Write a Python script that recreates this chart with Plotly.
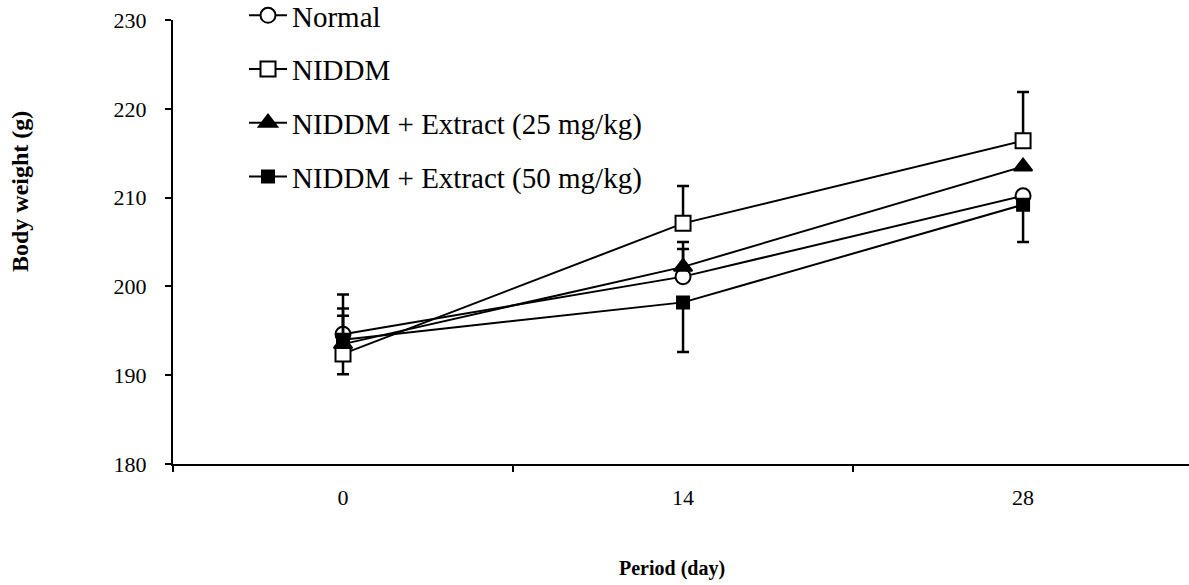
import plotly.graph_objects as go

days = ["0", "14", "28"]

normal = [194.6, 201.1, 210.2]
normal_plus = [4.5, 3.1, 0.0]
normal_minus = [0.0, 0.0, 0.0]

niddm = [192.4, 207.1, 216.4]
niddm_plus = [0.0, 4.2, 5.5]
niddm_minus = [2.3, 0.0, 0.0]

ext25 = [193.5, 202.2, 213.5]
ext25_plus = [4.0, 2.8, 0.0]
ext25_minus = [0.0, 0.0, 0.0]

ext50 = [194.0, 198.2, 209.2]
ext50_plus = [2.7, 0.0, 0.0]
ext50_minus = [0.0, 5.6, 4.2]

y_ticks = [180, 190, 200, 210, 220, 230]

FONT = "Liberation Serif"

series = [
    ("Normal", normal, normal_plus, normal_minus, "circle", "white", 15),
    ("NIDDM", niddm, niddm_plus, niddm_minus, "square", "white", 15),
    ("NIDDM + Extract (25 mg/kg)", ext25, ext25_plus, ext25_minus, "triangle-up", "black", 16),
    ("NIDDM + Extract (50 mg/kg)", ext50, ext50_plus, ext50_minus, "square", "black", 12),
]

fig = go.Figure()
for i, (name, vals, plus, minus, sym, fill, size) in enumerate(series):
    fig.add_trace(go.Scatter(
        x=days, y=vals, name=name, mode="lines+markers",
        legendgroup=f"g{i}",
        line=dict(color="black", width=2),
        marker=dict(symbol=sym, color=fill, size=size,
                    line=dict(color="black", width=2)),
        error_y=dict(type="data", symmetric=False, array=plus, arrayminus=minus,
                     color="black", thickness=2.5, width=6),
    ))

fig.update_layout(
    width=1189, height=585,
    margin=dict(l=173, r=0, t=20, b=121, autoexpand=False),
    paper_bgcolor="white", plot_bgcolor="white",
    font=dict(family=FONT, color="black", size=22),
    showlegend=True,
    legend=dict(x=(244 - 173) / 1016, y=1 + 30 / 444, xanchor="left", yanchor="top",
                font=dict(family=FONT, size=29, color="black"),
                bgcolor="rgba(0,0,0,0)", tracegroupgap=13,
                itemwidth=38),
    xaxis=dict(type="category", range=[-0.5, 2.488], tickson="boundaries",
               ticks="outside", ticklen=6, tickwidth=1.5, tickcolor="black",
               showline=True, linecolor="black", linewidth=2,
               showgrid=False, zeroline=False, ticklabelstandoff=13,
               tickfont=dict(family=FONT, size=22, color="black")),
    yaxis=dict(range=[180, 230], tickvals=y_ticks, ticks="outside", ticklen=6,
               tickwidth=1.5, tickcolor="black",
               showline=True, linecolor="black", linewidth=2,
               showgrid=False, zeroline=False, ticklabelstandoff=14,
               tickfont=dict(family=FONT, size=22, color="black")),
    annotations=[
        dict(text="<b>Body weight (g)</b>", xref="paper", yref="paper",
             x=(20 - 173) / 1016, y=(464 - 192) / 444, textangle=-90,
             showarrow=False, xanchor="center", yanchor="middle",
             font=dict(family=FONT, size=24, color="black")),
        dict(text="<b>Period (day)</b>", xref="paper", yref="paper",
             x=(672 - 173) / 1016, y=-(568 - 464) / 444,
             showarrow=False, xanchor="center", yanchor="middle",
             font=dict(family=FONT, size=20, color="black")),
    ],
)

fig.write_html("out.html")
